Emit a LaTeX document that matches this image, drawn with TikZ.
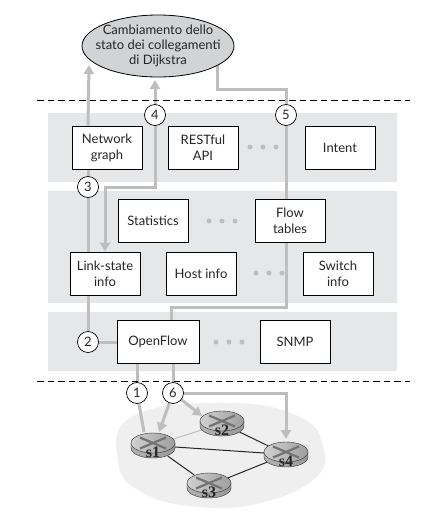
\documentclass[tikz,border=0pt]{standalone}
\usepackage{fontspec}
\setmainfont{Lato}
\newfontfamily\routerfont{Liberation Serif}
\usetikzlibrary{arrows.meta,shapes.geometric,calc}
\pgfdeclarelayer{back}\pgfdeclarelayer{mid}\pgfsetlayers{back,mid,main}
\definecolor{band}{HTML}{E6E7E8}
\definecolor{conn}{HTML}{BEBEBE}
\definecolor{cloud}{HTML}{EFEFEF}
\definecolor{ell}{HTML}{D2D3D5}
\tikzset{
 boxn/.style={draw=black,fill=white,line width=.8pt,minimum width=70pt,minimum height=43pt,inner sep=1pt,align=center,font=\fontsize{13}{16}\selectfont,text=black!85},
 stepc/.style={circle,draw=black,fill=white,line width=.7pt,minimum size=21pt,inner sep=0pt,font=\fontsize{13}{14}\selectfont,text=black!85},
 conline/.style={draw=conn,line width=3pt},
 conarrow/.style={conline,-{Triangle[length=9pt,width=10pt]}},
 bandr/.style={fill=band,draw=none},
 dashl/.style={draw=black,line width=.9pt,dash pattern=on 6.5pt off 4pt},
 dotm/.style={circle,fill=conn,draw=none,minimum size=5pt,inner sep=0pt},
 link/.style={draw=black!85,line width=1pt},
 rlabel/.style={font=\routerfont\bfseries\fontsize{16}{16}\selectfont,inner sep=0pt,text=black!85},
 rhit/.style={ellipse,minimum width=44pt,minimum height=28pt,inner sep=0pt,draw=none}
}
\newcommand{\routerat}[3]{%
 \shade[left color=black!30,middle color=black!65,right color=black!40,draw=black!80,line width=.4pt] (#2-22,#3) -- (#2-22,#3+5) arc[start angle=180,end angle=360,x radius=22,y radius=-10] -- (#2+22,#3) -- cycle;
 \shade[left color=black!18,right color=black!38,draw=black!80,line width=.4pt] (#2,#3) ellipse[x radius=22,y radius=10];
 \draw[black!55,line width=2.2pt] (#2-13,#3-5.5) -- (#2+13,#3+5.5) (#2-13,#3+5.5) -- (#2+13,#3-5.5);
 \node[rhit] (#1) at (#2,#3+2.5) {};
 \node[rlabel] (#1lab) at (#2,#3+9.5) {#1};
}
\begin{document}
\begin{tikzpicture}[x=1pt,y=-1pt]
\useasboundingbox (0,0) rectangle (432,512);
\begin{pgfonlayer}{back}
 \fill[bandr] (48,113) rectangle (397,182);
 \fill[bandr] (48,191) rectangle (397,303);
 \fill[bandr] (48,312) rectangle (397,371);
 \fill[cloud] plot[smooth cycle,tension=.75] coordinates {(118,462) (133,416) (227,403) (300,417) (324,450) (313,480) (260,503) (200,507) (143,493)};
\end{pgfonlayer}
\node[ellipse,draw=black,fill=ell,line width=.8pt,minimum width=152pt,minimum height=62pt,inner sep=0pt] (dij) at (158,46) {};
\node[inner sep=0pt,align=center,font=\fontsize{13}{15}\selectfont,text=black!85] (dijtext) at (dij.center) {Cambiamento dello\\stato dei collegamenti\\di Dijkstra};
\coordinate (topa) at (89,65);
\coordinate (topb) at (155,80);
\coordinate (du) at (37,100); \coordinate (duend) at (410,100);
\coordinate (dl) at (37,381); \coordinate (dlend) at (410,381);
\draw[dashl] (du) -- (duend);
\draw[dashl] (dl) -- (dlend);

\node[boxn] (net) at (107,147.5) {Network\\graph};
\node[boxn] (rest) at (203,147.5) {RESTful\\API};
\node[boxn] (intent) at (340,147.5) {Intent};
\node[boxn] (stat) at (153,220.5) {Statistics};
\node[boxn] (flow) at (290,220.5) {Flow\\tables};
\node[boxn] (lsi) at (105,273.5) {Link-state\\info};
\node[boxn] (host) at (201,273.5) {Host info};
\node[boxn] (swi) at (338,273.5) {Switch\\info};
\node[boxn,minimum width=82pt] (of) at (158,341.5) {OpenFlow};
\node[boxn] (snmp) at (295,341.5) {SNMP};

\foreach \n/\x/\y in {a/263/147,b/222/221,c/269/273,d/229/342}{
 \node[dotm] (\n1) at (\x-13,\y) {};
 \node[dotm] (\n2) at (\x,\y) {};
 \node[dotm] (\n3) at (\x+13,\y) {};
}
\node[stepc] (c1) at (137,393) {1};
\node[stepc] (c2) at (88,342) {2};
\node[stepc] (c3) at (88,187) {3};
\node[stepc] (c4) at (155,115) {4};
\node[stepc] (c5) at (286,115) {5};
\node[stepc] (c6) at (173,393) {6};

\routerat{s1}{153}{443}
\routerat{s2}{222}{421}
\routerat{s4}{286}{452}
\routerat{s3}{209}{483}

\coordinate (e5) at (217,64);
\coordinate (a5) at (286,89);
\coordinate (b5) at (217,89);
\coordinate (p4) at (105,187);
\coordinate (p4a) at (155,187);
\coordinate (f1) at (286,307);
\coordinate (f2) at (171,307);
\coordinate (t1) at (144,432);
\coordinate (t61) at (159,432);
\coordinate (t62) at (202,416);
\coordinate (t64) at (286,439);
\coordinate (k6) at (286,393);

\begin{pgfonlayer}{mid}
 \draw[conarrow] (c3 |- net.north) -- (topa);
 \draw[conline] (c3 |- net.south) -- (c3);
 \draw[conarrow] (c4) -- (topb);
 \draw[conarrow] (c4) -- (p4a) -- (p4) -- (p4 |- lsi.north);
 \draw[conline] (e5) -- (b5) -- (a5) -- (c5);
 \draw[conline] (c5) -- (c5 |- flow.north);
 \draw[conline] (c5 |- flow.south) -- (f1) -- (f2) -- (f2 |- of.north);
 \draw[conline] (c3) -- (c3 |- lsi.north);
 \draw[conline] (c2 |- lsi.south) -- (c2);
 \draw[conline] (c2) -- (of.west |- c2);
 \draw[conline] (c1 |- of.south) -- (c1);
 \draw[conline] (c6 |- of.south) -- (c6);
 \draw[conline] (c1) -- (t1);
 \draw[conarrow] (c6) -- (t61);
 \draw[conarrow] (c6) -- (t62);
 \draw[conarrow] (c6) -- (k6) -- (t64);
 \draw[draw=conn,line width=1pt] (s1) -- (s2);
 \draw[link] (s1) -- (s4);
 \draw[link] (s1) -- (s3);
 \draw[link] (s2) -- (s4);
 \draw[link] (s3) -- (s4);
\end{pgfonlayer}
\end{tikzpicture}
\end{document}
